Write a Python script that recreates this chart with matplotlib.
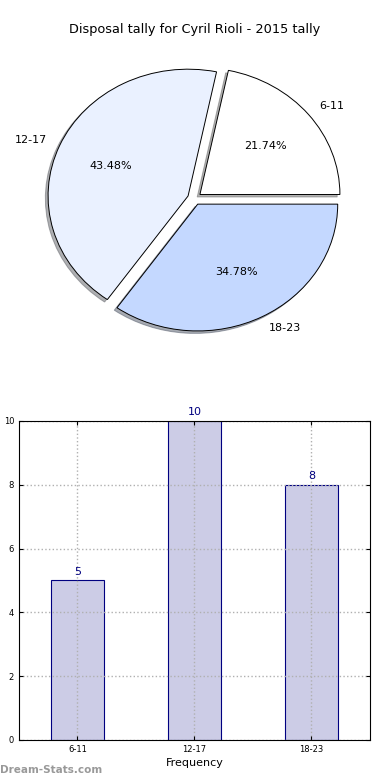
import matplotlib
matplotlib.use("Agg")
import matplotlib.pyplot as plt

categories = ["6-11", "12-17", "18-23"]
counts = [5, 10, 8]
pie_colors = ["#ffffff", "#eaf1ff", "#c4d8ff"]

fig = plt.figure(figsize=(3.9, 7.8), dpi=100)

# pie
ax1 = fig.add_axes([0.05, 0.5423, 0.8974, 0.4064])
wedges, texts, autotexts = ax1.pie(
    counts, labels=categories, colors=pie_colors, explode=[0.05, 0.05, 0.05],
    autopct="%.2f%%", shadow={"ox": -0.014, "oy": -0.014, "shade": 0.6},
    startangle=0,
    wedgeprops={"edgecolor": "black", "linewidth": 0.7},
    textprops={"fontsize": 8})
ax1.set_aspect("auto")
ax1.set_xlim(-1.25, 1.25)
ax1.set_ylim(-1.25, 1.25)
fig.text(0.5, 1 - 30 / 780, "Disposal tally for Cyril Rioli - 2015 tally",
         ha="center", va="center", fontsize=9.3)

# bars
ax2 = fig.add_axes([0.0487, 0.0513, 0.9, 0.409])
x = range(len(categories))
ax2.bar(x, counts, width=0.45, color="#ccccE6", edgecolor="#000080", linewidth=0.8)
for i, c in zip(x, counts):
    ax2.text(i, c + 0.12, str(c), ha="center", va="bottom", color="#000080", fontsize=8)
ax2.set_xlim(-0.5, 2.5)
ax2.set_ylim(0, 10)
ax2.set_xticks(list(x))
ax2.set_xticklabels(categories)
ax2.set_yticks([0, 2, 4, 6, 8, 10])
ax2.tick_params(labelsize=6, direction="in", top=True, right=True, length=3)
ax2.grid(True, linestyle=":", color="#b0b0b0", linewidth=1)
ax2.set_axisbelow(False)
for sp in ax2.spines.values():
    sp.set_zorder(4)
ax2.set_xlabel("Frequency", fontsize=8, labelpad=3)
ax2.set_ylabel("Disposal Tally", fontsize=8)
ax2.yaxis.set_label_coords(-0.065, 0.5)

fig.text(0.0, 1 - 770 / 780, "Dream-Stats.com", ha="left", va="center",
         color="#999999", fontsize=7.5, fontweight="bold")

fig.savefig("out.png", dpi=100)
